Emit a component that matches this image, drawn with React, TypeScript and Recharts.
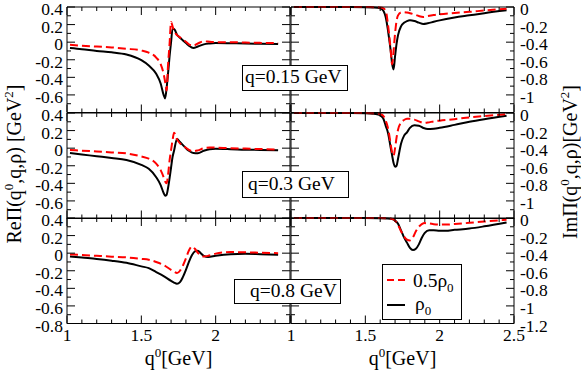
import React from 'react';
import { LineChart, Line, XAxis, YAxis, Legend } from 'recharts';

const FONT = "'Liberation Serif', 'Times New Roman', serif";

// ---------- data (q0 in GeV, Pi in GeV^2) ----------
const gridReAB = [1.02, 1.1, 1.2, 1.3, 1.4, 1.5, 1.55, 1.6, 1.63, 1.65, 1.66, 1.67, 1.68, 1.69, 1.7, 1.71, 1.72, 1.74, 1.76, 1.78, 1.8, 1.82, 1.85, 1.88, 1.92, 1.96, 2, 2.1, 2.2, 2.3, 2.42];
const re015Rho = [-0.067, -0.08, -0.1, -0.115, -0.14, -0.205, -0.265, -0.36, -0.47, -0.6, -0.64, -0.52, -0.35, -0.16, 0.0, 0.15, 0.15, 0.085, 0.05, 0.02, -0.01, -0.04, -0.067, -0.05, -0.025, -0.015, -0.01, -0.012, -0.015, -0.018, -0.02];
const re015Half = [-0.03, -0.04, -0.05, -0.06, -0.075, -0.095, -0.12, -0.175, -0.25, -0.36, -0.45, -0.55, -0.25, -0.02, 0.23, 0.18, 0.13, 0.08, 0.055, 0.03, 0.005, -0.025, -0.04, -0.015, 0.01, 0.005, 0.0, 0.0, -0.005, -0.008, -0.01];
const re03Rho = [-0.056, -0.072, -0.092, -0.112, -0.135, -0.19, -0.235, -0.33, -0.42, -0.51, -0.54, -0.53, -0.45, -0.34, -0.22, -0.1, -0.03, 0.105, 0.07, 0.035, 0.0, -0.03, -0.056, -0.058, -0.03, -0.012, -0.008, -0.012, -0.018, -0.02, -0.025];
const re03Half = [-0.02, -0.028, -0.038, -0.048, -0.06, -0.095, -0.12, -0.175, -0.25, -0.33, -0.38, -0.4, -0.3, -0.14, -0.02, 0.09, 0.175, 0.1, 0.055, 0.03, 0.005, -0.02, -0.035, -0.025, 0.0, 0.008, 0.006, 0.0, -0.005, -0.01, -0.015];

const gridReC = [1.02, 1.1, 1.2, 1.3, 1.4, 1.5, 1.55, 1.6, 1.65, 1.7, 1.72, 1.74, 1.76, 1.78, 1.8, 1.82, 1.84, 1.86, 1.88, 1.9, 1.92, 1.95, 2, 2.1, 2.2, 2.3, 2.42];
const re08Rho = [-0.037, -0.05, -0.065, -0.085, -0.11, -0.15, -0.17, -0.215, -0.26, -0.315, -0.335, -0.348, -0.33, -0.27, -0.19, -0.1, -0.025, 0.02, 0.028, 0.0, -0.03, -0.044, -0.03, -0.012, -0.008, -0.012, -0.018];
const re08Half = [-0.015, -0.02, -0.03, -0.04, -0.048, -0.065, -0.075, -0.1, -0.135, -0.19, -0.21, -0.227, -0.2, -0.14, -0.06, 0.03, 0.075, 0.05, 0.005, -0.025, -0.037, -0.03, -0.005, 0.012, 0.01, 0.005, 0.0];

const gridImAB = [1.02, 1.2, 1.4, 1.5, 1.55, 1.58, 1.6, 1.62, 1.64, 1.65, 1.66, 1.67, 1.68, 1.69, 1.7, 1.71, 1.72, 1.74, 1.76, 1.78, 1.8, 1.83, 1.86, 1.89, 1.92, 1.96, 2, 2.1, 2.2, 2.3, 2.45];
const im015Rho = [0, 0, 0, -0.002, -0.005, -0.008, -0.015, -0.04, -0.14, -0.24, -0.36, -0.49, -0.64, -0.71, -0.56, -0.42, -0.32, -0.22, -0.18, -0.16, -0.152, -0.16, -0.178, -0.193, -0.185, -0.168, -0.152, -0.12, -0.095, -0.07, -0.038];
const im015Half = [0, 0, 0, 0, -0.002, -0.003, -0.005, -0.012, -0.06, -0.17, -0.31, -0.48, -0.65, -0.5, -0.3, -0.16, -0.095, -0.062, -0.058, -0.063, -0.07, -0.085, -0.103, -0.113, -0.103, -0.092, -0.084, -0.068, -0.055, -0.04, -0.02];
const im03Rho = [0, 0, 0, -0.003, -0.008, -0.015, -0.025, -0.06, -0.16, -0.21, -0.29, -0.39, -0.48, -0.57, -0.61, -0.6, -0.52, -0.35, -0.26, -0.22, -0.17, -0.14, -0.145, -0.17, -0.183, -0.178, -0.168, -0.135, -0.1, -0.07, -0.03];
const im03Half = [0, 0, 0, -0.001, -0.003, -0.006, -0.012, -0.03, -0.1, -0.155, -0.24, -0.35, -0.45, -0.485, -0.4, -0.28, -0.19, -0.11, -0.08, -0.066, -0.064, -0.075, -0.095, -0.112, -0.108, -0.095, -0.087, -0.07, -0.05, -0.035, -0.012];

const gridImC = [1.02, 1.2, 1.4, 1.5, 1.6, 1.65, 1.68, 1.7, 1.72, 1.74, 1.76, 1.78, 1.8, 1.82, 1.84, 1.86, 1.88, 1.9, 1.93, 1.96, 2, 2.04, 2.1, 2.2, 2.3, 2.45];
const im08Rho = [0, 0, 0, 0, -0.002, -0.005, -0.012, -0.03, -0.065, -0.14, -0.22, -0.28, -0.34, -0.365, -0.35, -0.3, -0.225, -0.17, -0.14, -0.14, -0.145, -0.145, -0.135, -0.12, -0.095, -0.05];
const im08Half = [0, 0, 0, 0, 0, -0.003, -0.01, -0.03, -0.08, -0.15, -0.21, -0.245, -0.255, -0.22, -0.15, -0.1, -0.07, -0.058, -0.062, -0.07, -0.075, -0.075, -0.068, -0.055, -0.04, -0.02];

// ---------- ticks & labels ----------
const xTicks = [1, 1.1, 1.2, 1.3, 1.4, 1.5, 1.6, 1.7, 1.8, 1.9, 2, 2.1, 2.2, 2.3, 2.4, 2.5];
const xMajor = ['1', '1.5', '2', '2.5'];
const xLabelsLeft = ['1', '1.5', '2'];
const xLabelsRight = ['1', '1.5', '2', '2.5'];
const reTicks = [0.4, 0.3, 0.2, 0.1, 0, -0.1, -0.2, -0.3, -0.4, -0.5, -0.6, -0.7, -0.8];
const reMajor = ['0.4', '0.2', '0', '-0.2', '-0.4', '-0.6', '-0.8'];
const reLabelsUpper = ['0.4', '0.2', '0', '-0.2', '-0.4', '-0.6'];
const reLabelsBottom = ['0.4', '0.2', '0', '-0.2', '-0.4', '-0.6', '-0.8'];
const imTicks = [0, -0.1, -0.2, -0.3, -0.4, -0.5, -0.6, -0.7, -0.8, -0.9, -1, -1.1, -1.2];
const imMajor = ['0', '-0.2', '-0.4', '-0.6', '-0.8', '-1', '-1.2'];
const imLabelsUpper = ['0', '-0.2', '-0.4', '-0.6', '-0.8', '-1'];
const imLabelsBottom = ['0', '-0.2', '-0.4', '-0.6', '-0.8', '-1', '-1.2'];
const annotations = ['q=0.15 GeV', 'q=0.3 GeV', 'q=0.8 GeV'];

// ---------- layout ----------
const PLOT_W = 223;
const PLOT_H = 105.5;
const ROW_TOP = [7, 112.5, 218];
const COL_LEFT = { re: 67, im: 291 };
const AX = 1; // axis band thickness
const TICK_FS = 17.5;

const fmt = (v: number) => String(Number(Number(v).toFixed(2)));

function makeTick(side: 'top' | 'bottom' | 'left' | 'right', major: string[], labels: string[]) {
  return (p: any) => {
    const { x, y, payload } = p;
    const s = fmt(payload.value);
    const len = major.includes(s) ? 8 : 4;
    const show = labels.includes(s);
    let ln: any = null;
    let tx: any = null;
    const tp = { fontFamily: FONT, fontSize: TICK_FS, fill: '#000' };
    if (side === 'bottom') {
      ln = <line x1={x} y1={y} x2={x} y2={y - len} stroke="#000" strokeWidth={1} />;
      if (show) tx = <text x={x} y={y + 17.5} textAnchor="middle" {...tp}>{s}</text>;
    } else if (side === 'top') {
      ln = <line x1={x} y1={y} x2={x} y2={y + len} stroke="#000" strokeWidth={1} />;
    } else if (side === 'left') {
      ln = <line x1={x} y1={y} x2={x + len} y2={y} stroke="#000" strokeWidth={1} />;
      if (show) tx = <text x={x - 4} y={y + 8} textAnchor="end" {...tp}>{s}</text>;
    } else {
      ln = <line x1={x} y1={y} x2={x - len} y2={y} stroke="#000" strokeWidth={1} />;
      if (show) tx = <text x={x + 6} y={y + 8} textAnchor="start" {...tp}>{s}</text>;
    }
    return <g>{ln}{tx}</g>;
  };
}

const renderLegend = () => (
  <svg width={80} height={56} style={{ display: 'block' }}>
    <rect x={0.5} y={0.5} width={79} height={55} fill="#fff" stroke="#000" strokeWidth={1} />
    <line x1={5} x2={23} y1={16} y2={16} stroke="#ff0000" strokeWidth={2} strokeDasharray="7 4" />
    <text x={31} y={23} fontFamily={FONT} fontSize={19.5} fill="#000">0.5ρ<tspan dy={5} fontSize={13}>0</tspan></text>
    <line x1={5} x2={23} y1={41} y2={41} stroke="#000" strokeWidth={2} />
    <text x={33} y={46} fontFamily={FONT} fontSize={19.5} fill="#000">ρ<tspan dy={5} fontSize={13}>0</tspan></text>
  </svg>
);

type PanelProps = { grid: number[]; rho: number[]; half: number[]; kind: 're' | 'im'; row: number; legend?: boolean };

function Panel({ grid, rho, half, kind, row, legend }: PanelProps) {
  const isRe = kind === 're';
  const pad = { top: 10, right: isRe ? 4 : 56, bottom: row === 2 ? 30 : 10, left: isRe ? 62 : 4 };
  const m = { top: pad.top - AX, right: pad.right - AX, bottom: pad.bottom - AX, left: pad.left - AX };
  const x0 = COL_LEFT[kind];
  const y0 = ROW_TOP[row];
  const w = PLOT_W + pad.left + pad.right;
  const h = PLOT_H + pad.top + pad.bottom;
  const data = grid.map((x, i) => ({ x, rho: rho[i], half: half[i] }));
  const yTicks = isRe ? reTicks : imTicks;
  const yMajor = isRe ? reMajor : imMajor;
  const yLabels = row === 2 ? (isRe ? reLabelsBottom : imLabelsBottom) : (isRe ? reLabelsUpper : imLabelsUpper);
  const xLabels = row === 2 ? (isRe ? xLabelsLeft : xLabelsRight) : [];
  const domain: [number, number] = isRe ? [-0.8, 0.4] : [-1.2, 0];
  const axisLine = { stroke: '#000', strokeWidth: 1 };
  return (
    <div style={{ position: 'absolute', left: x0 - pad.left, top: y0 - pad.top, width: w, height: h }}>
      <LineChart width={w} height={h} data={data} margin={m}>
        <XAxis xAxisId="b" dataKey="x" type="number" domain={[1, 2.5]} ticks={xTicks} interval={0} orientation="bottom" height={AX} tickSize={0} tickMargin={0} tickLine={false} axisLine={axisLine} tick={makeTick('bottom', xMajor, xLabels)} />
        <XAxis xAxisId="t" dataKey="x" type="number" domain={[1, 2.5]} ticks={xTicks} interval={0} orientation="top" height={AX} tickSize={0} tickMargin={0} tickLine={false} axisLine={axisLine} tick={makeTick('top', xMajor, [])} />
        <YAxis yAxisId="l" type="number" domain={domain} ticks={yTicks} interval={0} orientation="left" width={AX} tickSize={0} tickMargin={0} tickLine={false} axisLine={axisLine} tick={makeTick('left', yMajor, isRe ? yLabels : [])} />
        <YAxis yAxisId="r" type="number" domain={domain} ticks={yTicks} interval={0} orientation="right" width={AX} tickSize={0} tickMargin={0} tickLine={false} axisLine={axisLine} tick={makeTick('right', yMajor, isRe ? [] : yLabels)} />
        <Line xAxisId="b" yAxisId="l" type="monotone" dataKey="rho" name="ρ0" stroke="#000" strokeWidth={2} dot={false} activeDot={false} isAnimationActive={false} />
        <Line xAxisId="t" yAxisId="r" type="monotone" dataKey="half" name="0.5ρ0" stroke="#ff0000" strokeWidth={2} strokeDasharray="8 4" dot={false} activeDot={false} isAnimationActive={false} />
        {legend ? (
          <Legend layout="vertical" align="center" verticalAlign="middle" content={renderLegend}
            wrapperStyle={{ left: 382 - (x0 - pad.left), top: 264 - (y0 - pad.top), width: 80, height: 56, right: 'auto', bottom: 'auto' }} />
        ) : null}
      </LineChart>
    </div>
  );
}

const T = { fontFamily: FONT, fill: '#000' };

export default function App() {
  return (
    <div style={{ position: 'absolute', left: 0, top: 0, width: 581, height: 373, background: '#fff' }}>
      <Panel grid={gridReAB} rho={re015Rho} half={re015Half} kind="re" row={0} />
      <Panel grid={gridReAB} rho={re03Rho} half={re03Half} kind="re" row={1} />
      <Panel grid={gridReC} rho={re08Rho} half={re08Half} kind="re" row={2} />
      <Panel grid={gridImAB} rho={im015Rho} half={im015Half} kind="im" row={0} />
      <Panel grid={gridImAB} rho={im03Rho} half={im03Half} kind="im" row={1} />
      <Panel grid={gridImC} rho={im08Rho} half={im08Half} kind="im" row={2} legend />
      <svg width={581} height={373} style={{ position: 'absolute', left: 0, top: 0, pointerEvents: 'none' }}>
        <rect x={242.5} y={65.5} width={105} height={25} fill="#fff" stroke="#000" />
        <text x={245} y={83} fontSize={19.5} {...T}>{annotations[0]}</text>
        <rect x={242.5} y={171.5} width={106} height={26} fill="#fff" stroke="#000" />
        <text x={248} y={190} fontSize={19.5} {...T}>{annotations[1]}</text>
        <rect x={234.5} y={279.5} width={106} height={24} fill="#fff" stroke="#000" />
        <text x={250} y={297} fontSize={19.5} {...T}>{annotations[2]}</text>

        <text x={178.5} y={365} fontSize={20} textAnchor="middle" {...T}>q<tspan dy={-8} fontSize={13}>0</tspan><tspan dy={8}>[GeV]</tspan></text>
        <text x={402.5} y={365} fontSize={20} textAnchor="middle" {...T}>q<tspan dy={-8} fontSize={13}>0</tspan><tspan dy={8}>[GeV]</tspan></text>

        <text transform="translate(21,164) rotate(-90)" fontSize={20} textAnchor="middle" {...T}>ReΠ(q<tspan dy={-8} fontSize={13}>0</tspan><tspan dy={8}>,q,ρ) [GeV</tspan><tspan dy={-8} fontSize={13}>2</tspan><tspan dy={8}>]</tspan></text>
        <text transform="translate(577,162) rotate(-90)" fontSize={20} textAnchor="middle" {...T}>ImΠ(q<tspan dy={-8} fontSize={13}>0</tspan><tspan dy={8}>,q,ρ)[GeV</tspan><tspan dy={-8} fontSize={13}>2</tspan><tspan dy={8}>]</tspan></text>
      </svg>
    </div>
  );
}
